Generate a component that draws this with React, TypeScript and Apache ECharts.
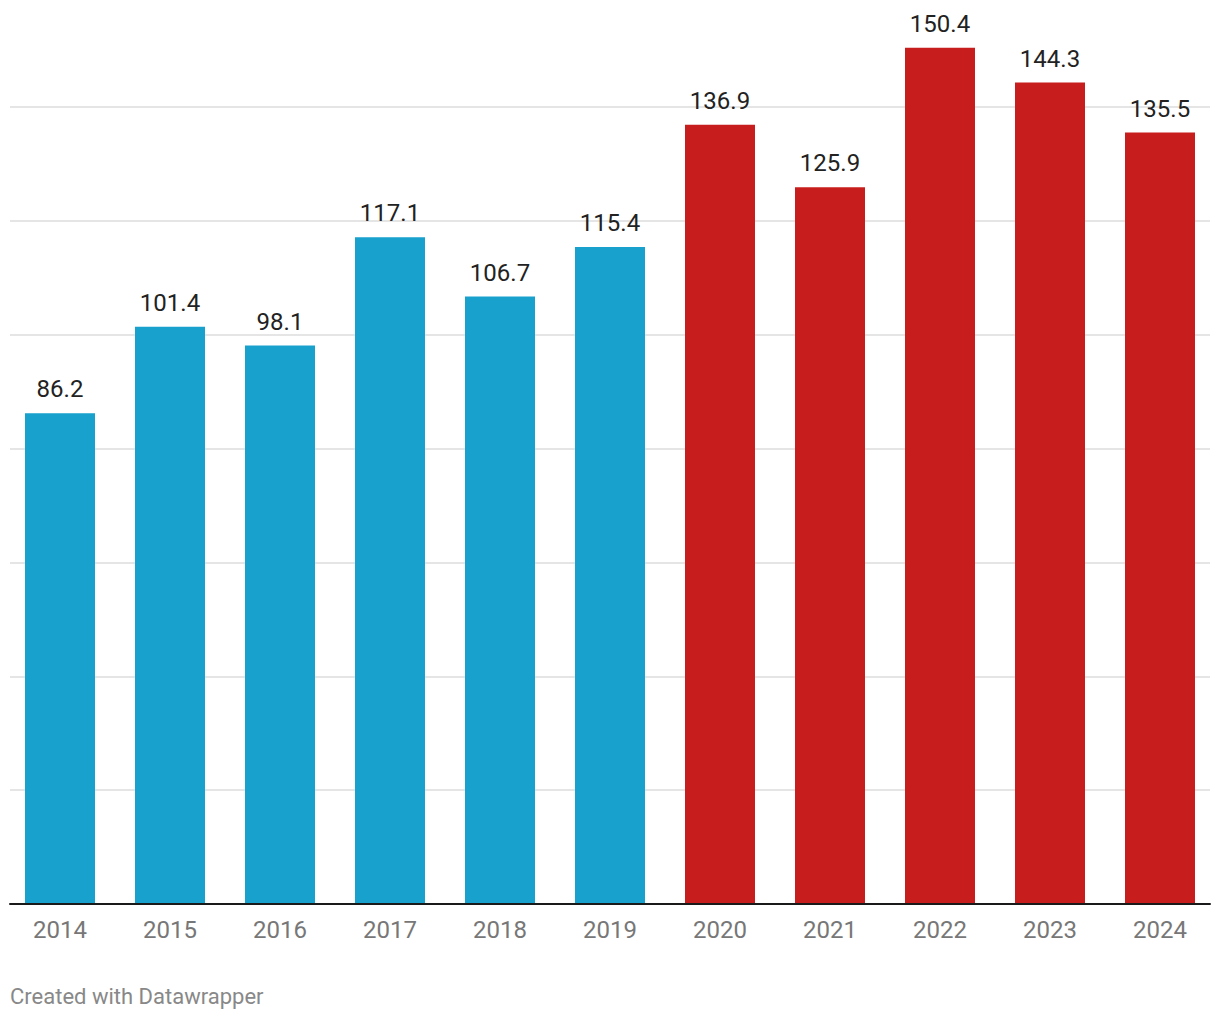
import React, { useEffect, useRef } from "react";
import * as echarts from "echarts";

const years = ["2014", "2015", "2016", "2017", "2018", "2019", "2020", "2021", "2022", "2023", "2024"];
const values = [86.2, 101.4, 98.1, 117.1, 106.7, 115.4, 136.9, 125.9, 150.4, 144.3, 135.5];
const highlighted = [false, false, false, false, false, false, true, true, true, true, true];
const footerText = "Created with Datawrapper";

const BLUE = "#18a1cd";
const RED = "#c71e1d";

export default function App() {
  const ref = useRef<HTMLDivElement>(null);
  useEffect(() => {
    if (!ref.current) return;
    const chart = echarts.init(ref.current, undefined, { renderer: "svg" });
    const top = 904 - 155 * (797 / 140);
    chart.setOption({
      animation: false,
      textStyle: { fontFamily: "Roboto" },
      grid: [
        { left: 5, right: 5, top, bottom: 116 },
        { left: 10, right: 10, top, bottom: 116 },
      ],
      xAxis: [
        {
          type: "category",
          gridIndex: 0,
          data: years,
          axisLine: { show: false },
          axisTick: { show: false },
          axisLabel: { color: "#777777", fontSize: 24, margin: 14, fontFamily: "Roboto" },
        },
        {
          type: "category",
          gridIndex: 1,
          data: years,
          axisLine: { show: true, lineStyle: { color: "#1a1a1a", width: 2 } },
          axisTick: { show: false },
          axisLabel: { show: false },
          z: 5,
        },
      ],
      yAxis: [
        { type: "value", gridIndex: 0, min: 0, max: 155, show: false, splitLine: { show: false } },
        {
          type: "value",
          gridIndex: 1,
          min: 0,
          max: 155,
          interval: 20,
          axisLabel: { show: false },
          axisLine: { show: false },
          axisTick: { show: false },
          splitLine: {
            show: true,
            showMaxLine: false,
            showMinLine: false,
            lineStyle: { color: "#e5e5e5", width: 2 },
          },
        },
      ],
      series: [
        {
          type: "bar",
          xAxisIndex: 0,
          yAxisIndex: 0,
          barWidth: 70,
          data: values.map((v, i) => ({
            value: v,
            itemStyle: { color: highlighted[i] ? RED : BLUE },
          })),
          label: {
            show: true,
            position: "top",
            distance: 12,
            fontSize: 24,
            color: "#222222",
            fontFamily: "Roboto",
          },
          z: 3,
        },
      ],
      graphic: [
        {
          type: "text",
          left: 10,
          top: 985,
          style: { text: footerText, fontSize: 22, fill: "#888888", fontFamily: "Roboto" },
        },
      ],
    });
    return () => chart.dispose();
  }, []);
  return (
    <div
      ref={ref}
      style={{ position: "absolute", left: 0, top: 0, width: 1220, height: 1020 }}
    />
  );
}
